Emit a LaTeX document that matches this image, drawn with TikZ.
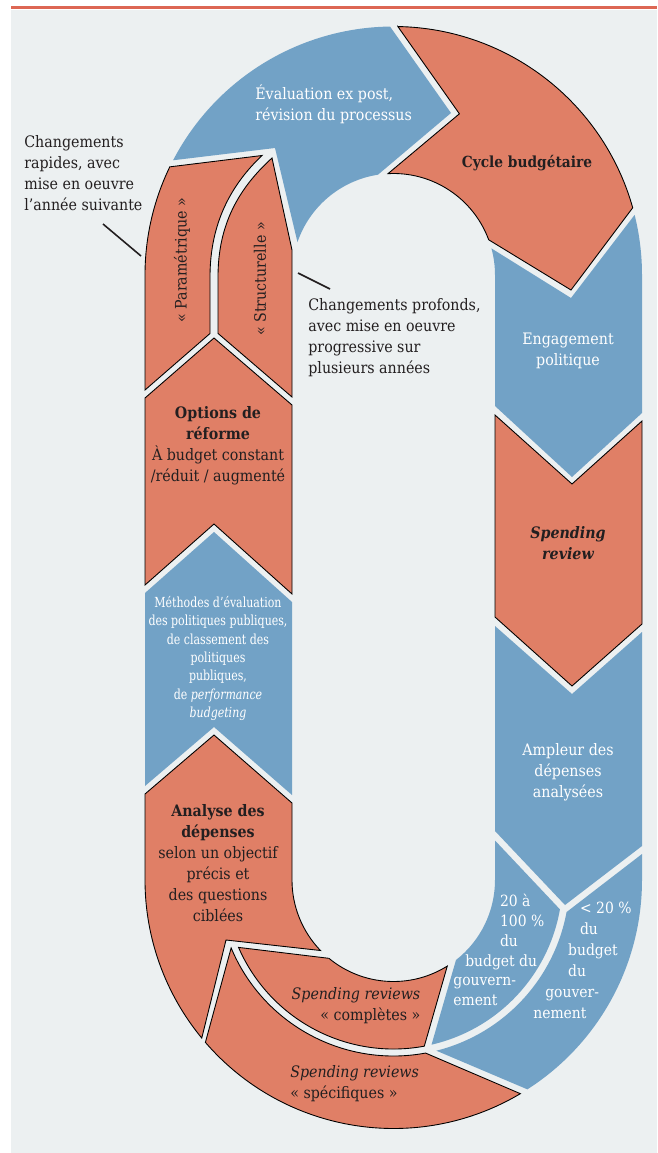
\documentclass[tikz,border=0pt]{standalone}
\usepackage{fontspec}
\setmainfont{DejaVu Serif Condensed}
\newfontfamily\etroit{DejaVu Serif Condensed}[FakeStretch=0.88]
\usetikzlibrary{calc}
\definecolor{saumon}{RGB}{224,127,102}
\definecolor{bleu}{RGB}{114,162,198}
\definecolor{fond}{RGB}{236,240,241}
\definecolor{filet}{RGB}{221,103,84}
\definecolor{encre}{RGB}{35,31,32}
\tikzset{
  rouge/.style={fill=saumon, draw=black, line width=0.5pt},
  bleue/.style={fill=bleu},
  txt/.style={font=\fontsize{9}{11.9}\selectfont, text=encre, align=center, inner sep=0pt},
  txtw/.style={txt, text=white},
  trait/.style={draw=encre, line width=0.9pt}
}

\begin{document}
\begin{tikzpicture}[x=0.02cm, y=-0.02cm]
    \useasboundingbox (0,0) rectangle (657,1153);
    \fill[fond] (11,10) rectangle (657,1153);
    \draw[filet, line width=1.7pt] (11,7.5) -- (657,7.5);
    \coordinate (ct) at (393.5,275);
    \coordinate (cb) at (393.5,880);

    \fill[bleue] ($(ct)+(207.5:248.5)$) arc[start angle=207.5, end angle=269.2, radius=248.5] -- (451,113) -- ($(ct)+(261.2:101.5)$) arc[start angle=261.2, end angle=198.9, radius=101.5] -- (275,148) -- cycle;
    \draw[rouge] ($(ct)+(271:248.5)$) -- (459.4,113.8) -- ($(ct)+(266.9:101.5)$) arc[start angle=266.9, end angle=339.7, radius=101.5] -- (571,290) -- ($(ct)+(344.3:248.5)$) arc[start angle=344.3, end angle=271, radius=248.5] -- cycle;
    \draw[rouge] (145,390) -- (145,275) arc[start angle=180, end angle=205.8, radius=248.5] -- (262,155.5) .. controls (232,184) and (210,222) .. (210,277) -- (210,333.5) -- cycle;
    \draw[rouge] (218,277) .. controls (218,224) and (239,188) .. (272,158) -- (292,250) -- (292,397) -- (218,333.4) -- cycle;

    \fill[bleue] ($(ct)+(344.8:101.5)$) -- (571,298) -- ($(ct)+(346:248.5)$) arc[start angle=346, end angle=360, radius=248.5] -- (642,413) -- (572,477) -- (495,406) -- (495,275) arc[start angle=360, end angle=344.8, radius=101.5] -- cycle;
    \draw[rouge] (495,415) -- (572,484) -- (642,421) -- (642,624) -- (572,686) -- (495,617) -- cycle;
    \fill[bleue] (495,626) -- (572,694) -- (642,632) -- (642,846) -- (565,905) -- (495,831) -- cycle;

    \draw[rouge] (145,398) -- (214,338) -- (292,405) -- (292,594) -- (214,524) -- (145,585) -- cycle;
    \fill[bleue] (145,593) -- (214,532) -- (292,602) -- (292,795) -- (214,727) -- (145,786) -- cycle;
    \draw[rouge] (145,794) -- (214,735) -- (292,803) -- (292,880) arc[start angle=180, end angle=136, radius=101.5] -- (226,940) -- ($(cb)+(140.5:248.5)$) arc[start angle=140.5, end angle=180, radius=248.5] -- cycle;

    \draw[rouge] ($(cb)+(156.5:169)$) -- ($(cb)+(129.5:101.5)$) arc[start angle=129.5, end angle=58, radius=101.5] -- ($(cb)+(79.5:169)$) arc[start angle=79.5, end angle=156.5, radius=169] -- cycle;
    \draw[rouge] ($(cb)+(157.3:176)$) -- ($(cb)+(139.2:248.5)$) arc[start angle=139.2, end angle=59.3, radius=248.5] -- ($(cb)+(79.5:176)$) arc[start angle=79.5, end angle=157.3, radius=176] -- cycle;
    \fill[bleue] (495,840.5) -- ($(cb)+(10:169)$) arc[start angle=10, end angle=77, radius=169] -- ($(cb)+(52:101.5)$) arc[start angle=52, end angle=0, radius=101.5] -- cycle;
    \fill[bleue] ($(cb)+(10.5:176)$) -- (642,854) -- (642,880) arc[start angle=0, end angle=57.4, radius=248.5] -- ($(cb)+(75.9:176)$) arc[start angle=75.9, end angle=10.5, radius=176] -- cycle;

    \node[txtw, anchor=west, align=left] (eval) at (255,104) {Évaluation ex post,\\révision du processus};
    \node[txt, font=\fontsize{8.7}{11.9}\selectfont\bfseries] (cycle) at (527,163) {Cycle budgétaire};
    \node[txtw] (engag) at (568,351) {Engagement\\politique};
    \node[txt, font=\fontsize{9}{11.9}\selectfont\bfseries\itshape] (spend) at (568,543) {Spending\\review};
    \node[txtw] (ampleur) at (568,772) {Ampleur des\\dépenses\\analysées};
    \node[txt, rotate=90] (param) at (182,260) {« Paramétrique »};
    \node[txt, rotate=90] (struct) at (260,279) {« Structurelle »};
    \node[txt] (options) at (218,446) {\textbf{Options de}\\\textbf{réforme}\\À budget constant\\/réduit / augmenté};
    \node[txtw, font=\etroit\fontsize{7.9}{10.5}\selectfont] (methodes) at (218,658.5) {Méthodes d’évaluation\\des politiques publiques,\\de classement des\\politiques\\publiques,\\de \textit{performance}\\\textit{budgeting}};
    \node[txt] (analyse) at (218,863) {\textbf{Analyse des}\\\textbf{dépenses}\\selon un objectif\\précis et\\des questions\\ciblées};
    \node[txt, align=right] (compl) at (356,1005.5) {\textit{Spending reviews}\\« complètes »};
    \node[txt, anchor=west, align=left] (specif) at (290,1083.5) {\textit{Spending reviews}\\« spécifiques »};
    \node[txtw, anchor=west, align=left, font=\fontsize{8.8}{11.3}\selectfont] (vingt) at (453,950) {\hspace*{26.6pt}20 à\\\hspace*{26.6pt}100 \%\\\hspace*{26.6pt}du\\\hspace*{6.8pt}budget du\\gouvern-\\ement};
    \node[txtw, anchor=west, align=left, font=\fontsize{8.8}{11.9}\selectfont] (moins) at (533,960.5) {\hspace*{26.6pt}< 20 \%\\\hspace*{26.6pt}du\\\hspace*{19.8pt}budget\\\hspace*{19.8pt}du\\\hspace*{6.8pt}gouver-\\nement};

    \node[txt, anchor=west, align=left] (rapide) at (24,173) {Changements\\rapides, avec\\mise en oeuvre\\l’année suivante};
    \node[txt, anchor=west, align=left] (profond) at (308,337.5) {Changements profonds,\\avec mise en oeuvre\\progressive sur\\plusieurs années};
    \coordinate (r1) at (103,224);
    \coordinate (r2) at (141,256);
    \coordinate (p1) at (298,273);
    \coordinate (p2) at (330,289);
    \draw[trait] (r1) -- (r2);
    \draw[trait] (p1) -- (p2);
\end{tikzpicture}
\end{document}
